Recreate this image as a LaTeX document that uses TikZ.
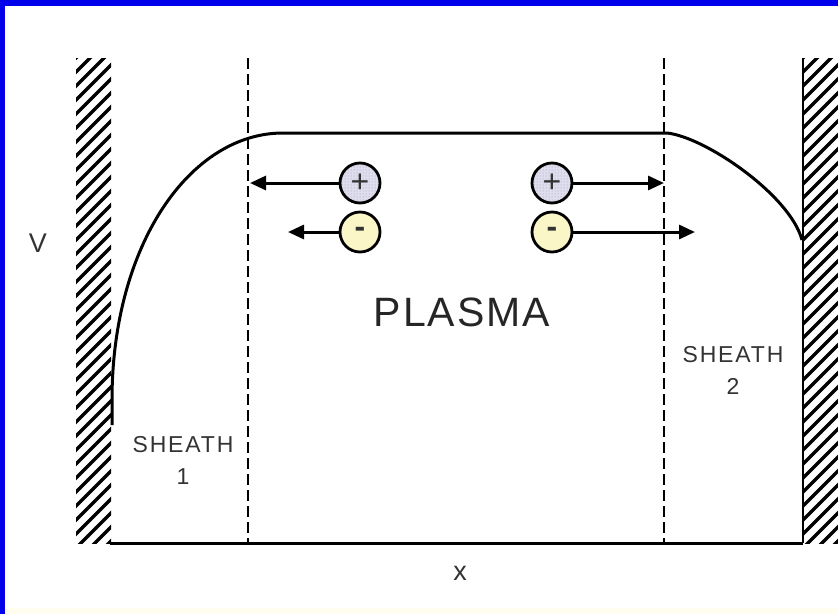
\documentclass[tikz,border=0pt]{standalone}
\usepackage{fontspec}
\setmainfont{Liberation Sans}
\usetikzlibrary{arrows.meta,patterns}
\definecolor{frameblue}{RGB}{0,0,235}
\definecolor{ionfill}{RGB}{222,222,240}
\definecolor{elecfill}{RGB}{250,246,200}
\begin{document}
\begin{tikzpicture}[x=1pt,y=-1pt,
    wall/.style={line width=3.5pt},
    particle/.style={circle,draw,line width=2.8pt,minimum size=40pt,inner sep=0pt,
      font=\fontsize{32}{32}\selectfont,text=black!80},
    ion/.style={particle,preaction={fill=ionfill},pattern=dots,pattern color=gray!80},
    electron/.style={particle,fill=elecfill},
    flux/.style={line width=3pt,-{Triangle[length=16pt,width=14pt]}},
    sheathline/.style={line width=2.2pt,dash pattern=on 11pt off 5pt},
    lbl/.style={font=\fontsize{23}{32}\selectfont\addfontfeature{LetterSpace=8},
      align=center,text=black!80}]
    \useasboundingbox (0,0) rectangle (838,614);

    % Frame
    \fill[frameblue] (0,0) rectangle (838,6);
    \fill[frameblue] (0,0) rectangle (5,614);
    \fill[yellow!6] (5,608) rectangle (838,614);

    % Walls
    \begin{scope}
        \clip (76,58) rectangle (111,543);
        \foreach \k in {58,72,...,610} \draw[wall] (70,\k+6) -- (120,\k-44);
    \end{scope}
    \begin{scope}
        \clip (803,58) rectangle (838,543);
        \foreach \k in {58,72,...,610} \draw[wall] (797,\k+6) -- (847,\k-44);
    \end{scope}
    \draw[line width=2.5pt] (803,58) -- (803,543);

    % Axis and sheath edges
    \draw[line width=3pt] (110,543) -- (803,543);
    \draw[sheathline] (248,58) -- (248,542);
    \draw[sheathline] (664,58) -- (664,542);

    % Potential
    \draw[line width=3pt] (112,425) -- (112,400) .. controls (112,245) and (190,133) .. (283,133)
        -- (667,133) .. controls (705,137) and (790,195) .. (802,240);

    % Particles
    \node[ion] (ionL) at (360,183) {+};
    \node[electron] (elecL) at (360,232) {\textbf{-}};
    \node[ion] (ionR) at (552,183) {+};
    \node[electron] (elecR) at (552,232) {\textbf{-}};

    \coordinate (ionLend) at (250,183);
    \coordinate (elecLend) at (288,232);
    \coordinate (ionRend) at (664,183);
    \coordinate (elecRend) at (695,232);

    \draw[flux] (ionL) -- (ionLend);
    \draw[flux] (elecL) -- (elecLend);
    \draw[flux] (ionR) -- (ionRend);
    \draw[flux] (elecR) -- (elecRend);

    % Labels
    \node[font=\fontsize{27}{30}\selectfont,text=black!80] (vlabel) at (38,243) {V};
    \node[font=\fontsize{27}{30}\selectfont,text=black!80] (xlabel) at (460,573) {x};
    \node[font=\fontsize{41}{44}\selectfont\addfontfeature{LetterSpace=5},text=black!85] (plasma) at (462,312) {PLASMA};
    \node[lbl] (sheathA) at (183,460) {SHEATH\\1};
    \node[lbl] (sheathB) at (733,370) {SHEATH\\2};
\end{tikzpicture}
\end{document}
